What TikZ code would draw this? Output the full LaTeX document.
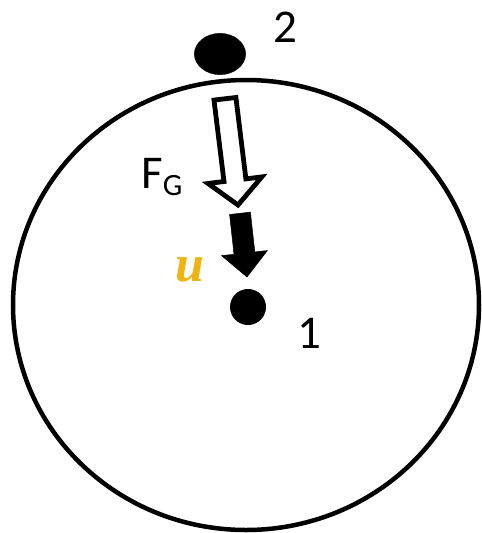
\documentclass[tikz,border=0pt]{standalone}
\usepackage{fontspec}
\setmainfont{Carlito}
\newfontfamily\ufont{Liberation Serif}
\definecolor{ugold}{HTML}{F0B410}
\begin{document}
\begin{tikzpicture}[x=1pt,y=-1pt,
  lbl/.style={inner sep=0pt,font=\fontsize{47}{47}\selectfont},
  hollowarrow/.style={draw=black,fill=white,line width=4.8pt,line join=miter},
  solidarrow/.style={fill=black,draw=black,line width=0.5pt}]
\useasboundingbox (0,0) rectangle (482,533);
% big sphere
\draw[line width=4.5pt] (246,305) ellipse [x radius=233, y radius=225];
% small body 2
\fill[black,draw=white,line width=3pt] (220,54) ellipse [x radius=27.5, y radius=22.5];
\node[lbl,anchor=base] (n2) at (285,42) {2};
% centre 1
\fill[black] (248,307) circle (18);
\node[lbl,anchor=base] (n1) at (309,348) {1};
% hollow force arrow
\draw[hollowarrow] (214.0,100.1) -- (235.9,97.5) -- (245.9,178.9) -- (261.8,176.9)
  -- (238,205) -- (208.1,183.5) -- (224.0,181.5) -- cycle;
\node[lbl,anchor=base west] (fg) at (141,188) {F\raisebox{-7pt}{\fontsize{31}{31}\selectfont G}};
% solid arrow u
\draw[solidarrow] (229.6,214.5) -- (250.4,212.1) -- (254.8,251.9) -- (267.3,250.6)
  -- (247,277) -- (221.5,255.6) -- (234.0,254.3) -- cycle;
\node[inner sep=0pt,anchor=base,text=ugold,font=\ufont\bfseries\itshape\fontsize{52}{52}\selectfont] (u) at (190,281) {u};
\end{tikzpicture}
\end{document}
